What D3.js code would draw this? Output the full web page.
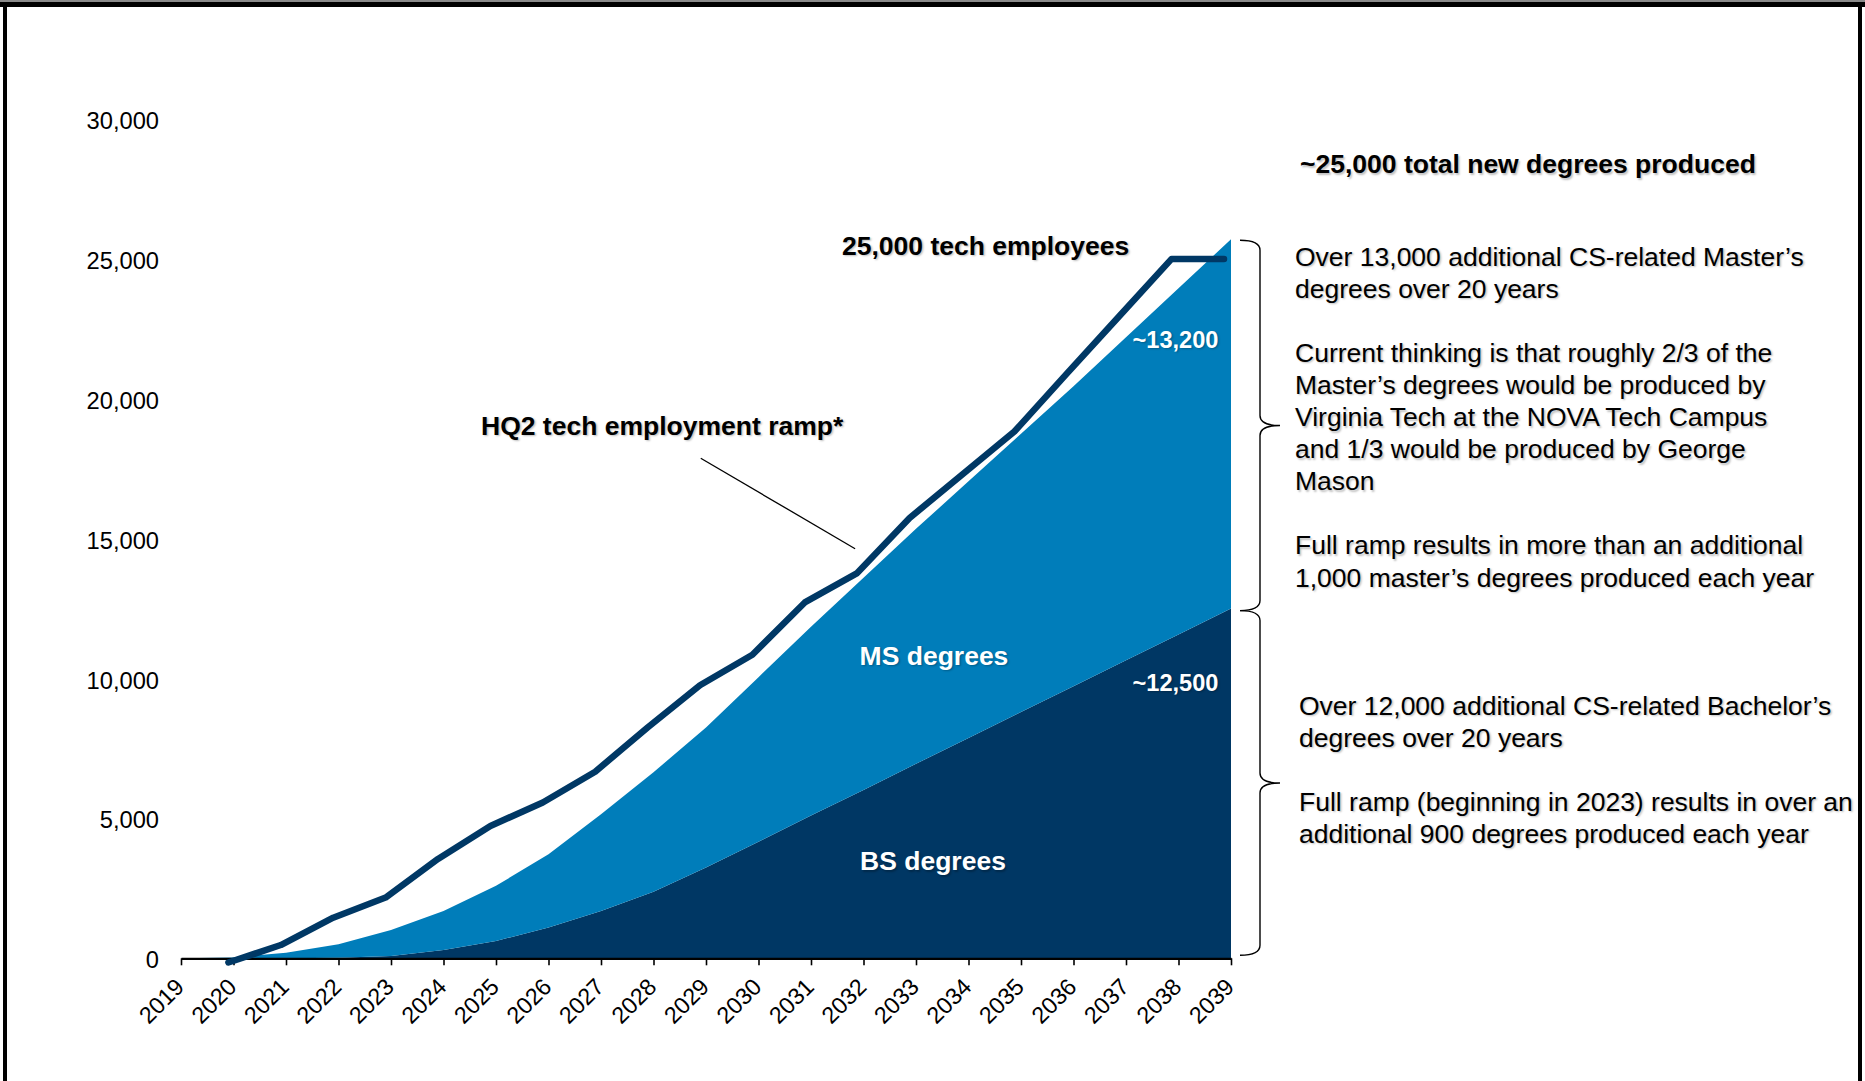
<!DOCTYPE html>
<html>
<head>
<meta charset="utf-8">
<script src="https://cdn.jsdelivr.net/npm/d3@7"></script>
<style>
  html, body { margin: 0; padding: 0; background: #fff; }
  svg { display: block; font-family: Arial, "Liberation Sans", sans-serif; }
  .shadow { text-shadow: 1.5px 1.5px 2px rgba(0,0,0,0.25); }
</style>
</head>
<body>
<svg id="chart" width="1865" height="1081"></svg>
<script>
// Years on the category axis
const years = [2019, 2020, 2021, 2022, 2023, 2024, 2025, 2026, 2027, 2028, 2029,
               2030, 2031, 2032, 2033, 2034, 2035, 2036, 2037, 2038, 2039];
const yearLabels = ["2019", "2020", "2021", "2022", "2023", "2024", "2025", "2026", "2027", "2028", "2029",
                    "2030", "2031", "2032", "2033", "2034", "2035", "2036", "2037", "2038", "2039"];

// Cumulative new degrees (stacked): Bachelor's at the bottom, Master's on top
const bsDegrees = [0, 0, 0, 20, 80, 300, 620, 1100, 1690, 2380, 3250,
                   4170, 5100, 6020, 6950, 7870, 8800, 9720, 10650, 11570, 12500];
const msDegrees = [0, 30, 200, 480, 930, 1390, 1970, 2620, 3460, 4270, 5000,
                   5880, 6750, 7580, 8400, 9180, 9950, 10730, 11550, 12380, 13200];

// HQ2 tech employment ramp (starts in 2020)
const hq2Ramp = [null, -150, 475, 1450, 2170, 3550, 4730, 5570, 6670, 8250, 9760,
                 10850, 12720, 13770, 15740, 17280, 18830, 20900, 22950, 25000, 25000];

// Value axis
const yTicks = [0, 5000, 10000, 15000, 20000, 25000, 30000];
const yMax = 30000;

const colors = { bs: "#003764", ms: "#007dba", line: "#003865" };

const svg = d3.select("#chart");

// Frame around the slide
svg.append("rect").attr("x", 0).attr("y", 0).attr("width", 1865).attr("height", 2).attr("fill", "#8a8a8a");
svg.append("rect").attr("x", 0).attr("y", 2).attr("width", 1865).attr("height", 5).attr("fill", "#000");
svg.append("rect").attr("x", 3).attr("y", 2).attr("width", 4).attr("height", 1081).attr("fill", "#000");
svg.append("rect").attr("x", 1858).attr("y", 2).attr("width", 4).attr("height", 1081).attr("fill", "#000");

const x = d3.scaleLinear().domain([2019, 2039]).range([181, 1231]);
// ramp line is drawn slightly offset to the left of the category ticks
const xLine = d3.scaleLinear().domain([2019, 2039]).range([176, 1224]);
const y = d3.scaleLinear().domain([0, yMax]).range([958.3, 119]);

const table = years.map((yr, i) => ({ year: yr, bs: bsDegrees[i], ms: msDegrees[i], ramp: hq2Ramp[i] }));
const stacked = d3.stack().keys(["bs", "ms"])(table);

const area = d3.area()
  .x(d => x(d.data.year))
  .y0(d => y(d[0]))
  .y1(d => y(d[1]));

svg.append("g").selectAll("path")
  .data(stacked)
  .join("path")
  .attr("d", area)
  .attr("fill", d => colors[d.key]);

// Axes
const xAxis = d3.axisBottom(x)
  .tickValues(years)
  .tickFormat((d, i) => yearLabels[i])
  .tickSize(7)
  .tickSizeOuter(0);

const gx = svg.append("g").attr("transform", `translate(0,${y(0)})`).call(xAxis);
gx.attr("font-family", "Arial, 'Liberation Sans', sans-serif");
gx.select(".domain").attr("stroke", "#000").attr("stroke-width", 2.2);
gx.selectAll(".tick line").attr("stroke", "#000").attr("stroke-width", 1.6);
gx.selectAll(".tick text")
  .attr("x", 0).attr("y", 0).attr("dy", 0)
  .attr("transform", "translate(4,30) rotate(-45)")
  .style("text-anchor", "end")
  .attr("fill", "#000")
  .attr("font-size", 23.3);

const yAxis = d3.axisLeft(y)
  .tickValues(yTicks)
  .tickFormat(d3.format(","))
  .tickSize(0)
  .tickPadding(22);

const gy = svg.append("g").attr("transform", `translate(181,0)`).call(yAxis);
gy.attr("font-family", "Arial, 'Liberation Sans', sans-serif");
gy.select(".domain").remove();
gy.selectAll(".tick text").attr("fill", "#000").attr("font-size", 23.7).attr("dy", "0.4em");

// Employment ramp line
const line = d3.line()
  .defined(d => d.ramp !== null)
  .x(d => xLine(d.year))
  .y(d => y(d.ramp));

svg.append("path")
  .datum(table)
  .attr("d", line)
  .attr("fill", "none")
  .attr("stroke", colors.line)
  .attr("stroke-width", 6.5)
  .attr("stroke-linecap", "round")
  .attr("stroke-linejoin", "round");

// Pointer from the ramp label to the line
svg.append("line")
  .attr("x1", x(2028.9)).attr("y1", y(17875))
  .attr("x2", x(2031.84)).attr("y2", y(14640))
  .attr("stroke", "#000").attr("stroke-width", 1.3);

// Chart annotations
const notes = svg.append("g").attr("font-weight", "bold");
notes.append("text").attr("class", "shadow").attr("x", 842).attr("y", 254.5).attr("font-size", 26.5).attr("fill", "#000")
  .text("25,000 tech employees");
notes.append("text").attr("class", "shadow").attr("x", 481).attr("y", 434.5).attr("font-size", 26.5).attr("fill", "#000")
  .text("HQ2 tech employment ramp*");
notes.append("text").attr("class", "shadow").attr("x", 934).attr("y", 664.5).attr("text-anchor", "middle").attr("font-size", 26.5).attr("fill", "#fff")
  .text("MS degrees");
notes.append("text").attr("class", "shadow").attr("x", 933).attr("y", 870).attr("text-anchor", "middle").attr("font-size", 26.5).attr("fill", "#fff")
  .text("BS degrees");
notes.append("text").attr("class", "shadow").attr("x", 1218.5).attr("y", 347.5).attr("text-anchor", "end").attr("font-size", 23.6).attr("fill", "#fff")
  .text("~" + d3.format(",")(msDegrees[msDegrees.length - 1]));
notes.append("text").attr("class", "shadow").attr("x", 1218.5).attr("y", 690.5).attr("text-anchor", "end").attr("font-size", 23.6).attr("fill", "#fff")
  .text("~" + d3.format(",")(bsDegrees[bsDegrees.length - 1]));

// Braces spanning each stacked band at the final year
const last = table[table.length - 1];
function brace(top, bottom) {
  const xl = 1240, xv = 1260, xt = 1280, r = 10;
  const mid = (top + bottom) / 2;
  return `M${xl},${top} Q${xv},${top} ${xv},${top + r} L${xv},${mid - r} Q${xv},${mid} ${xt},${mid}` +
         ` Q${xv},${mid} ${xv},${mid + r} L${xv},${bottom - r} Q${xv},${bottom} ${xl},${bottom}`;
}
const braceG = svg.append("g").attr("fill", "none").attr("stroke", "#000").attr("stroke-width", 1.4);
braceG.append("path").attr("d", brace(y(last.bs + last.ms) + 1, y(last.bs) + 2));
braceG.append("path").attr("d", brace(y(last.bs) + 2, y(0) - 3));

// Side commentary
const side = svg.append("g").attr("font-size", 26.5).attr("fill", "#000");
side.append("text").attr("class", "shadow").attr("x", 1300).attr("y", 173).attr("font-weight", "bold")
  .text("~25,000 total new degrees produced");

const lineStep = 32.1;
const upperLines = [
  "Over 13,000 additional CS-related Master\u2019s",
  "degrees over 20 years",
  "",
  "Current thinking is that roughly 2/3 of the",
  "Master\u2019s degrees would be produced by",
  "Virginia Tech at the NOVA Tech Campus",
  "and 1/3 would be produced by George",
  "Mason",
  "",
  "Full ramp results in more than an additional",
  "1,000 master\u2019s degrees produced each year"
];
const lowerLines = [
  "Over 12,000 additional CS-related Bachelor\u2019s",
  "degrees over 20 years",
  "",
  "Full ramp (beginning in 2023) results in over an",
  "additional 900 degrees produced each year"
];
side.selectAll("text.upper").data(upperLines).join("text")
  .attr("class", "upper shadow")
  .attr("x", 1295).attr("y", (d, i) => 265.5 + i * lineStep)
  .text(d => d);
side.selectAll("text.lower").data(lowerLines).join("text")
  .attr("class", "lower shadow")
  .attr("x", 1299).attr("y", (d, i) => 714.5 + i * lineStep)
  .text(d => d);
</script>
</body>
</html>
